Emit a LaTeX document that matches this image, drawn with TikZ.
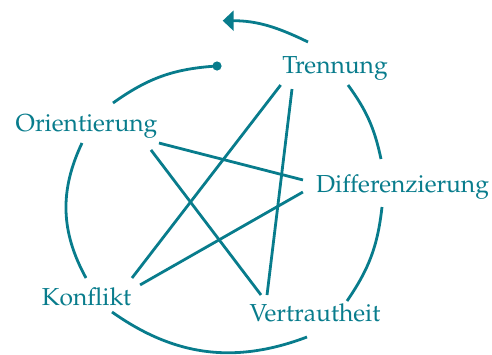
\documentclass[tikz,border=0pt]{standalone}
\usepackage[T1]{fontenc}
\usepackage{mathpazo}
\usetikzlibrary{arrows.meta}
\definecolor{tealc}{RGB}{8,124,140}
\begin{document}
\begin{tikzpicture}[x=0.5pt,y=0.5pt,
  lbl/.style={text=tealc,font=\fontsize{12.3}{14}\selectfont,inner sep=0pt,anchor=base},
  link/.style={draw=tealc,line width=1.4pt},
  ring/.style={draw=tealc,line width=1.4pt},
  dotnode/.style={circle,fill=tealc,inner sep=0pt,minimum size=4.6pt}]
\useasboundingbox (0,0) rectangle (492,-354);
% labels
\node[lbl] (T) at (335,-73.3) {Trennung};
\node[lbl] (O) at (86.5,-131.7) {Orientierung};
\node[lbl] (D) at (402.5,-192.7) {Differenzierung};
\node[lbl] (K) at (86.5,-305) {Konflikt};
\node[lbl] (V) at (315,-321.7) {Vertrautheit};
% hubs of the star
\coordinate (hT) at (294.7,-66.8);
\coordinate (hO) at (142.5,-138.8);
\coordinate (hD) at (317.5,-183.7);
\coordinate (hK) at (116.1,-298.6);
\coordinate (hV) at (266.2,-301.8);
% star
\draw[link, shorten <=11.5pt, shorten >=13pt] (hT) -- (hK);
\draw[link, shorten <=11.2pt, shorten >=3.4pt] (hT) -- (hV);
\draw[link, shorten <=8.5pt, shorten >=7.5pt] (hO) -- (hD);
\draw[link, shorten <=7pt, shorten >=4.3pt] (hO) -- (hV);
\draw[link, shorten <=8.4pt, shorten >=13.8pt] (hD) -- (hK);
% ring end points
\coordinate (tR) at (348,-85);
\coordinate (dU) at (381,-159);
\coordinate (dL) at (382,-207);
\coordinate (vR) at (347,-301);
\coordinate (vB) at (307,-337);
\coordinate (kB) at (112,-312);
\coordinate (kU) at (86,-278);
\coordinate (oB) at (82,-143);
\coordinate (oU) at (113,-103);
\coordinate (tU) at (308,-42);
\coordinate (tip) at (222.7,-20.7);
\node[dotnode] (dot) at (217,-66) {};
% ring
\draw[ring] (tR) to[bend left=12] (dU);
\draw[ring] (dL) to[bend left=14] (vR);
\draw[ring] (vB) to[bend left=28] (kB);
\draw[ring] (kU) to[bend left=27] (oB);
\draw[ring] (oU) to[bend left=16] (dot.center);
\draw[ring,-{Triangle[length=5.5pt,width=10pt]}] (tU) to[out=154,in=0] (tip);
\end{tikzpicture}
\end{document}
